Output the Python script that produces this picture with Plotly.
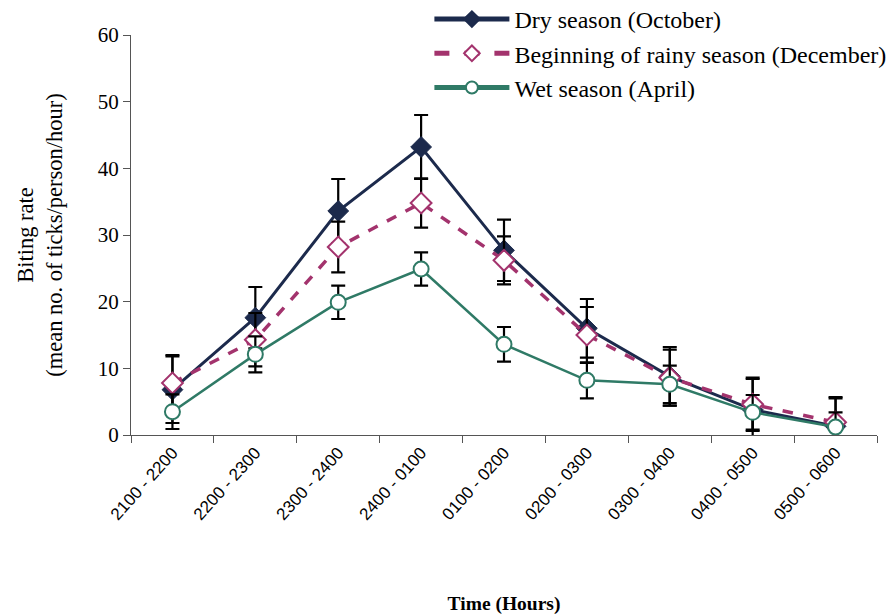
import plotly.graph_objects as go

categories = ["2100 - 2200", "2200 - 2300", "2300 - 2400", "2400 - 0100", "0100 - 0200",
              "0200 - 0300", "0300 - 0400", "0400 - 0500", "0500 - 0600"]

dry = [6.8, 17.6, 33.6, 43.2, 27.7, 16.0, 8.8, 3.8, 1.3]
dry_err = [5.0, 4.6, 4.8, 4.8, 4.6, 4.4, 4.4, 4.6, 4.2]

rainy = [7.8, 14.3, 28.2, 34.8, 26.2, 15.0, 8.6, 4.6, 1.9]
rainy_err = [4.2, 4.0, 3.8, 3.7, 3.6, 4.2, 4.2, 4.0, 3.8]

wet = [3.5, 12.1, 19.9, 24.9, 13.6, 8.2, 7.6, 3.4, 1.2]
wet_err = [2.6, 2.7, 2.5, 2.5, 2.6, 2.7, 2.8, 2.6, 2.2]

series_names = ["Dry season (October)",
                "Beginning of rainy season (December)",
                "Wet season (April)"]

y_ticks = [0, 10, 20, 30, 40, 50, 60]

serif = "Liberation Serif, Times New Roman, serif"
narrow = "Liberation Sans Narrow, Arial Narrow, Liberation Sans, sans-serif"

fig = go.Figure()

fig.add_trace(go.Scatter(
    x=categories, y=dry, name=series_names[0], mode="lines+markers",
    line=dict(color="#1c2a4c", width=3),
    marker=dict(symbol="diamond", size=16, color="#1c2a4c", line=dict(color="#1c2a4c", width=1)),
    error_y=dict(type="data", array=dry_err, color="black", thickness=2.2, width=7),
))
fig.add_trace(go.Scatter(
    x=categories, y=rainy, name=series_names[1], mode="lines+markers",
    line=dict(color="#a3336d", width=3.5, dash="dash"),
    marker=dict(symbol="diamond", size=16, color="white", line=dict(color="#a3336d", width=2)),
    error_y=dict(type="data", array=rainy_err, color="black", thickness=2.2, width=7),
))
fig.add_trace(go.Scatter(
    x=categories, y=wet, name=series_names[2], mode="lines+markers",
    line=dict(color="#2f7a66", width=2.5),
    marker=dict(symbol="circle", size=15, color="white", line=dict(color="#2f7a66", width=2)),
    error_y=dict(type="data", array=wet_err, color="black", thickness=2.2, width=7),
))

fig.update_layout(
    width=893, height=615,
    margin=dict(l=131, r=16, t=35, b=180, autoexpand=False),
    paper_bgcolor="white", plot_bgcolor="white",
    font=dict(family=serif, color="black", size=18),
    showlegend=True,
    legend=dict(x=0.40, y=1.095, xanchor="left", yanchor="top",
                font=dict(family=serif, size=24, color="black"),
                bgcolor="rgba(0,0,0,0)", itemwidth=75, tracegroupgap=0,
                itemsizing="constant"),
    xaxis=dict(
        type="category", categoryorder="array", categoryarray=categories,
        range=[-0.5, 8.5], showline=True, linecolor="#555", linewidth=1.2,
        ticks="outside", tickson="boundaries", ticklen=7, tickcolor="#555",
        tickangle=-48, tickfont=dict(family=narrow, size=17, color="black"),
        showgrid=False, zeroline=False,
        title=dict(text="<b>Time (Hours)</b>", font=dict(family=serif, size=19.5), standoff=80),
    ),
    yaxis=dict(
        range=[0, 60], tickvals=y_ticks, showline=True, linecolor="#555", linewidth=1.2,
        ticks="outside", ticklen=7, tickcolor="#555",
        tickfont=dict(family=serif, size=21, color="black"),
        showgrid=False, zeroline=False,
        title=dict(text="Biting rate<br>(mean no. of ticks/person/hour)",
                   font=dict(family=serif, size=22.5), standoff=28),
    ),
)

fig.write_html("out.html")
